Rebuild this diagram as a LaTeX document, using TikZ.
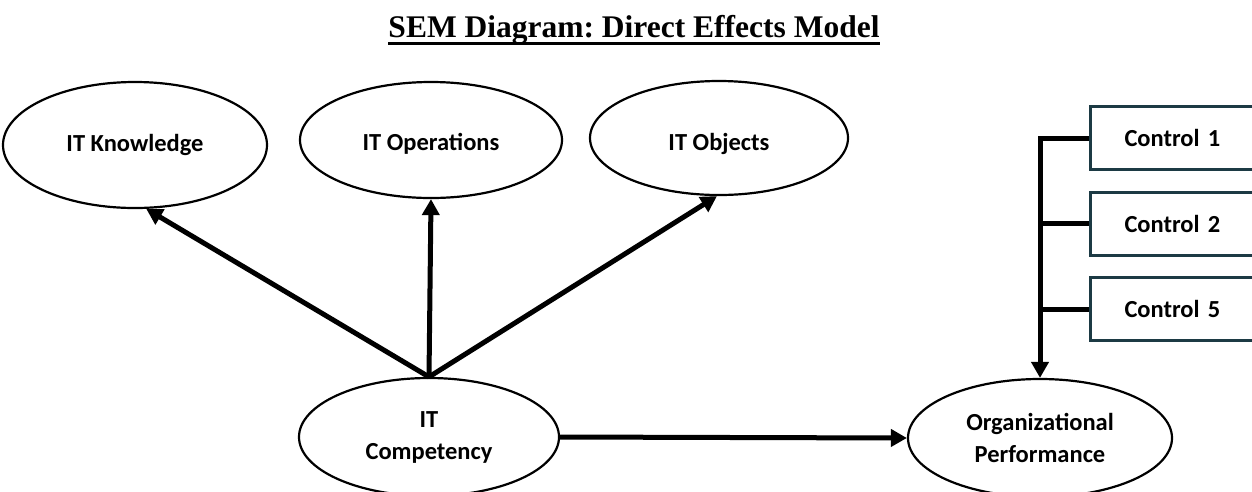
\documentclass[tikz,border=0pt]{standalone}
\usepackage{fontspec}
\setmainfont{Liberation Serif}
\newfontfamily\labelfont{Carlito}
\usetikzlibrary{shapes.geometric,arrows.meta}
\definecolor{boxedge}{RGB}{28,58,68}
\frenchspacing
\tikzset{
  latent/.style={ellipse, draw=black, line width=2.2pt, fill=white, inner sep=0pt,
    align=center, font=\labelfont\bfseries\fontsize{24.5}{32}\selectfont},
  ctrlbox/.style={rectangle, draw=boxedge, line width=3pt, fill=white, anchor=west,
    inner xsep=34pt, inner ysep=0pt, text width=130pt, align=left, minimum height=63pt,
    font=\labelfont\bfseries\fontsize{24.5}{30}\selectfont},
  path/.style={line width=5pt, -{Triangle[length=16pt,width=17pt]}},
  link/.style={line width=5pt}
}
% move a label down inside its shape without changing the shape's centring
\newcommand{\lowered}[2]{\raisebox{-#1}[\height][\depth]{#2}}
\begin{document}
\begin{tikzpicture}[x=1pt,y=-1pt]
\useasboundingbox (0,0) rectangle (1252,491);
\clip (0,0) rectangle (1252,491);
\fill[white] (0,0) rectangle (1252,491);

% title
\node[anchor=base, inner sep=0pt, font=\bfseries\fontsize{31.5}{36}\selectfont] (title) at (634,37)
  {SEM Diagram: Direct Effects Model};
\draw[line width=3pt] ([yshift=-6pt]title.base west) -- ([yshift=-6pt]title.base east);

% indicator constructs
\node[latent, minimum width=264pt, minimum height=126pt] (know) at (135,145) {IT Knowledge};
\node[latent, minimum width=262pt, minimum height=116pt] (oper) at (431,140) {\lowered{4pt}{IT Operations}};
\node[latent, minimum width=258pt, minimum height=114pt] (obj) at (719,138) {\lowered{6pt}{IT Objects}};

% core constructs
\node[latent, minimum width=260pt, minimum height=118pt] (comp) at (429,437) {IT\\Competency};
\node[latent, minimum width=264pt, minimum height=118pt] (perf) at (1040,438) {Organizational\\Performance};

% control variables
\node[ctrlbox] (c1) at (1089,138) {Control 1};
\node[ctrlbox] (c2) at (1089,223.5) {Control 2};
\node[ctrlbox] (c3) at (1089,309) {Control 5};

% direct effects
\draw[path] (comp.north) -- (know.-80);
\draw[path] (comp.north) -- (oper.south);
\draw[path] (comp.north) -- (obj.-92);
\draw[path] (comp.east) -- (perf.west);

% control bus into performance
\coordinate (bus) at (1040,138);
\draw[path, line join=miter] (c1.west) -- (bus) -- (perf.north);
\draw[link] (c2.west) -- (c2.west -| bus);
\draw[link] (c3.west) -- (c3.west -| bus);
\end{tikzpicture}
\end{document}
